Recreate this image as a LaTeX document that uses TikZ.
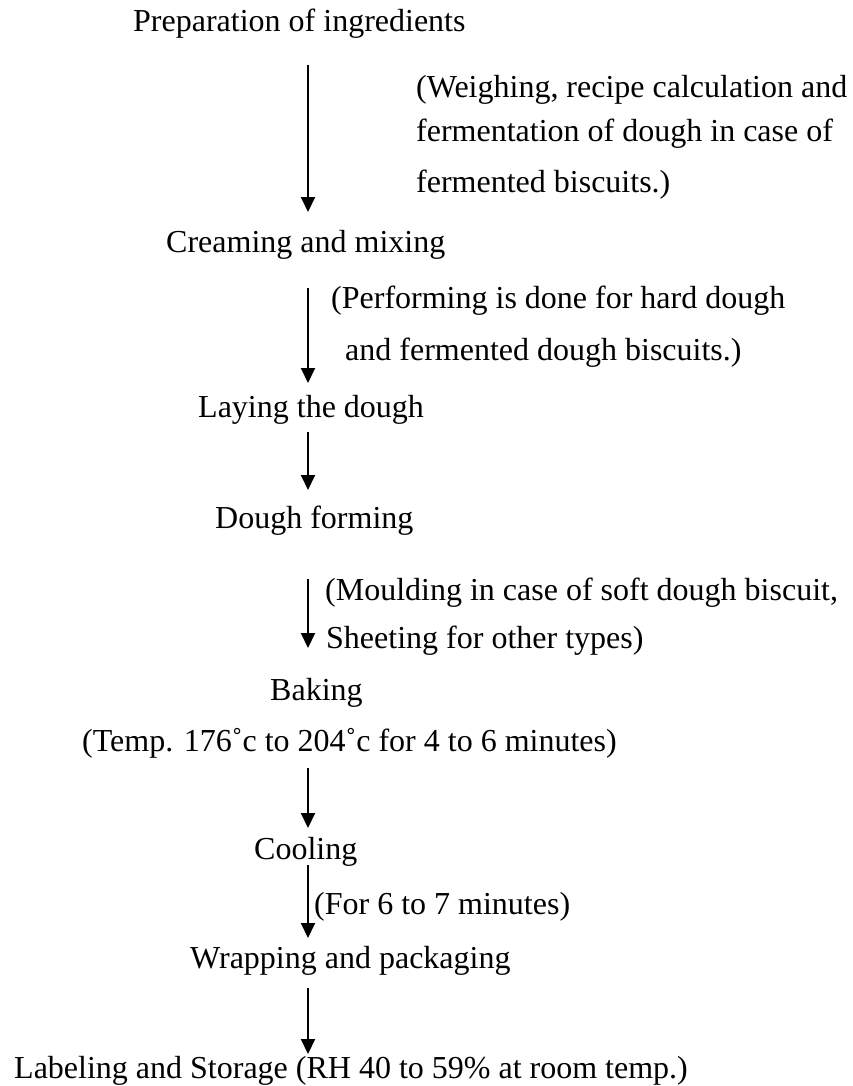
\documentclass[tikz,border=0pt]{standalone}
\usepackage{fontspec}
\setmainfont{Liberation Serif}
\usetikzlibrary{arrows.meta}
\begin{document}
\begin{tikzpicture}[x=1pt,y=-1pt,
  lbl/.style={anchor=base west,inner sep=0pt,font=\fontsize{32}{38}\selectfont},
  flow/.style={line width=2pt,-{Triangle[width=14pt,length=15pt]}}]
\useasboundingbox (0,0) rectangle (852,1086);
\node[lbl] (prep) at (133,32) {Preparation of ingredients};
\node[lbl] (n1a) at (416,98) {(Weighing, recipe calculation and};
\node[lbl] (n1b) at (416,142) {fermentation of dough in case of};
\node[lbl] (n1c) at (416,193) {fermented biscuits.)};
\node[lbl] (cream) at (166,252) {Creaming and mixing};
\node[lbl] (n2a) at (331,308) {(Performing is done for hard dough};
\node[lbl] (n2b) at (345,360) {and fermented dough biscuits.)};
\node[lbl] (lay) at (198,417) {Laying the dough};
\node[lbl] (form) at (215,528) {Dough forming};
\node[lbl] (n4a) at (325,600) {(Moulding in case of soft dough biscuit,};
\node[lbl] (n4b) at (326,648) {Sheeting for other types)};
\node[lbl] (bake) at (270,700) {Baking};
\node[lbl] (temp) at (82,751) {(Temp. 176˚c to 204˚c for 4 to 6 minutes)};
\node[lbl] (cool) at (254,859) {Cooling};
\node[lbl] (n6) at (314,914) {(For 6 to 7 minutes)};
\node[lbl] (wrap) at (190,968) {Wrapping and packaging};
\node[lbl] (label) at (14,1078) {Labeling and Storage (RH 40 to 59\% at room temp.)};
\coordinate (a1s) at (308,65);  \coordinate (a1e) at (308,212);
\coordinate (a2s) at (308,288); \coordinate (a2e) at (308,383);
\coordinate (a3s) at (308,432); \coordinate (a3e) at (308,490);
\coordinate (a4s) at (308,579); \coordinate (a4e) at (308,648);
\coordinate (a5s) at (308,768); \coordinate (a5e) at (308,828);
\coordinate (a6s) at (308,865); \coordinate (a6e) at (308,938);
\coordinate (a7s) at (308,988); \coordinate (a7e) at (308,1054);
\draw[flow] (a1s) -- (a1e);
\draw[flow] (a2s) -- (a2e);
\draw[flow] (a3s) -- (a3e);
\draw[flow] (a4s) -- (a4e);
\draw[flow] (a5s) -- (a5e);
\draw[flow] (a6s) -- (a6e);
\draw[flow] (a7s) -- (a7e);
\end{tikzpicture}
\end{document}
